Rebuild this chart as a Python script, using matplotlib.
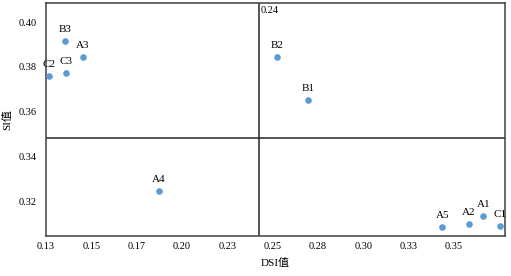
import numpy as np
import matplotlib.pyplot as plt

names = ["B3", "A3", "C2", "C3", "B2", "B1", "A4", "A5", "A2", "A1", "C1"]
dsi = [0.1355, 0.1454, 0.1267, 0.1360, 0.2525, 0.2696, 0.1874, 0.3436, 0.3580, 0.3662, 0.3751]
si = [0.3915, 0.3844, 0.3759, 0.3772, 0.3844, 0.3651, 0.3245, 0.3084, 0.3097, 0.3133, 0.3088]

x_ticks = [0.125 + 0.025 * k for k in range(10)]
x_labels = ["0.13", "0.15", "0.17", "0.20", "0.23", "0.25", "0.28", "0.30", "0.33", "0.35"]
y_ticks = [0.32, 0.34, 0.36, 0.38, 0.40]
y_labels = ["0.32", "0.34", "0.36", "0.38", "0.40"]
dsi_mean = 0.2425
si_mean = 0.3484

fam = ["Liberation Serif", "Noto Sans CJK SC"]
plt.rcParams["font.family"] = fam

fig = plt.figure(figsize=(5.11, 2.76), dpi=100)
ax = fig.add_axes([0.090, 0.145, 0.898, 0.844])

ax.scatter(dsi, si, s=14, color="#5B9BD5", zorder=3)
for n, x, y in zip(names, dsi, si):
    ax.annotate(n, (x, y), xytext=(0, 5), textcoords="offset points",
                ha="center", va="bottom", fontsize=8)

ax.axvline(dsi_mean, color="#262626", lw=1.1)
ax.axhline(si_mean, color="#262626", lw=1.1)
ax.annotate("0.24", (dsi_mean, 0.4085), xytext=(1, -2), textcoords="offset points",
            fontsize=7.5, ha="left", va="top")

ax.set_xlim(0.125, 0.378)
ax.set_ylim(0.3044, 0.4085)
ax.set_xticks(x_ticks, x_labels)
ax.set_yticks(y_ticks, y_labels)
ax.tick_params(axis="x", length=0, labelsize=7.5, pad=4)
ax.tick_params(axis="y", length=0, labelsize=7.5, pad=7)
for sp in ax.spines.values():
    sp.set_color("#404040")
    sp.set_linewidth(1.1)

ax.set_xlabel("DSI值", fontsize=8, family=fam, labelpad=5)
ax.set_ylabel("SI值", fontsize=8, family=fam, labelpad=4)

fig.savefig("out.png", dpi=100)
